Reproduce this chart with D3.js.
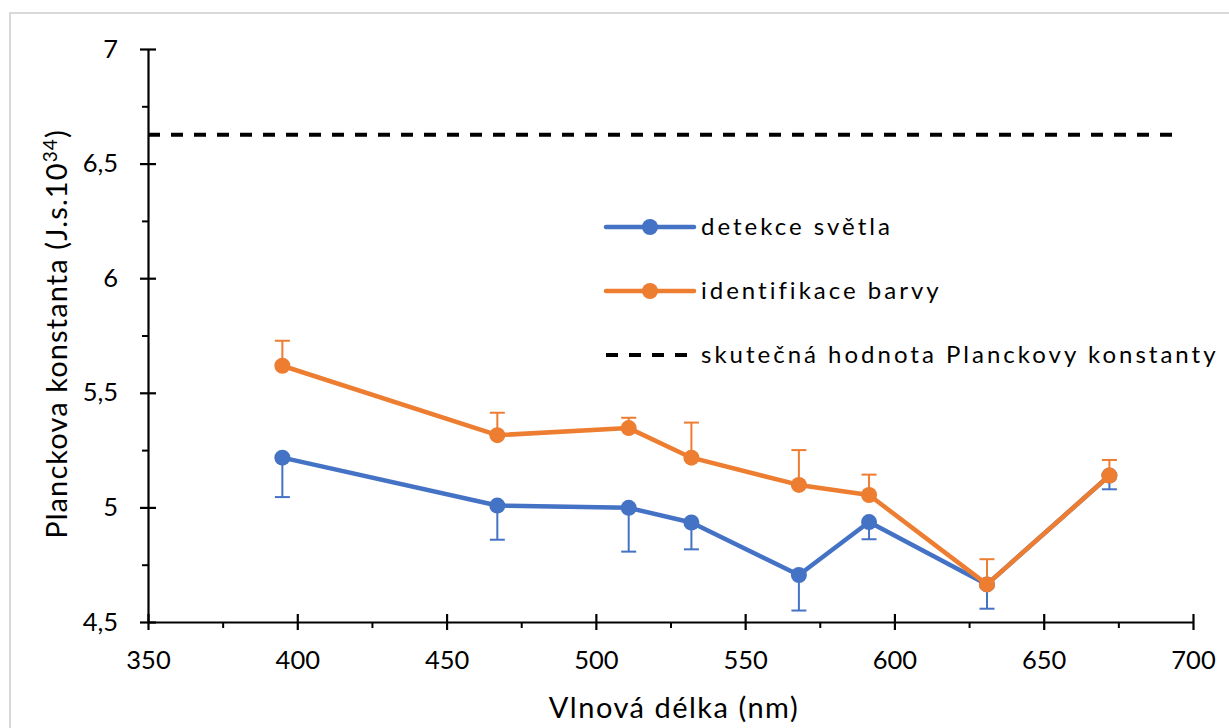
<!DOCTYPE html>
<html>
<head>
<meta charset="utf-8">
<script src="https://cdn.jsdelivr.net/npm/d3@7"></script>
<style>
  body { margin: 0; background: #fff; }
  text { font-family: Lato, "Open Sans", sans-serif; fill: #000; }
</style>
</head>
<body>
<script>
// wavelength (nm) of each LED
var wavelengths = [395, 467, 511, 532, 568, 591.5, 631, 672];
// detekce svetla: mean and (lower) error
var detekce = [5.217, 5.008, 4.998, 4.934, 4.705, 4.936, 4.664, 5.139];
var detekceErr = [0.172, 0.149, 0.191, 0.117, 0.155, 0.075, 0.106, 0.060];
// identifikace barvy: mean and (upper) error
var identifikace = [5.618, 5.315, 5.346, 5.217, 5.098, 5.054, 4.664, 5.139];
var identifikaceErr = [0.109, 0.098, 0.045, 0.153, 0.152, 0.089, 0.110, 0.068];
// real value of Planck constant
var planckReal = 6.626;
var planckRange = [350, 696];

var xTicks = [350, 400, 450, 500, 550, 600, 650, 700];
var xMinor = [375, 425, 475, 525, 575, 625, 675];
var yTicks = [4.5, 5, 5.5, 6, 6.5, 7];
var yMinor = [4.75, 5.25, 5.75, 6.25, 6.75];

var legendNames = ["detekce světla", "identifikace barvy", "skutečná hodnota Planckovy konstanty"];

var blue = "#4472C4", orange = "#ED7D31";

var W = 1229, H = 728;
var margin = {top: 49, right: 36, bottom: 106, left: 148};
var width = W - margin.left - margin.right,
    height = H - margin.top - margin.bottom;

var svg = d3.select("body").append("svg")
    .attr("width", W)
    .attr("height", H);

// chart area border
svg.append("rect")
    .attr("x", 10).attr("y", 13)
    .attr("width", W + 20).attr("height", H + 20)
    .attr("fill", "none")
    .attr("stroke", "#d9d9d9")
    .attr("stroke-width", 2);

var g = svg.append("g")
    .attr("transform", "translate(" + margin.left + "," + margin.top + ")");

var x = d3.scaleLinear().domain([350, 700]).range([0, width]);
var y = d3.scaleLinear().domain([4.5, 7]).range([height, 0]);

var fmt = function(d) { return String(d).replace(".", ","); };

// minor ticks
g.append("g")
    .attr("transform", "translate(0," + height + ")")
    .call(d3.axisBottom(x).tickValues(xMinor).tickSize(6).tickFormat(""))
    .call(function(a) { a.select(".domain").remove(); a.selectAll("line").attr("stroke-width", 2); });
g.append("g")
    .call(d3.axisLeft(y).tickValues(yMinor).tickSize(6).tickFormat(""))
    .call(function(a) { a.select(".domain").remove(); a.selectAll("line").attr("stroke-width", 2); });

// x axis
var xAxis = g.append("g")
    .attr("transform", "translate(0," + height + ")")
    .call(d3.axisBottom(x).tickValues(xTicks).tickSize(8).tickSizeOuter(0).tickPadding(21));
xAxis.select(".domain").attr("stroke-width", 2.2);
xAxis.selectAll(".tick line").attr("y1", -8).attr("stroke-width", 2.2);
xAxis.selectAll("text").attr("font-size", 25.5).style("font-family", "Lato");

// y axis
var yAxis = g.append("g")
    .call(d3.axisLeft(y).tickValues(yTicks).tickFormat(fmt).tickSize(8).tickSizeOuter(0).tickPadding(22));
yAxis.select(".domain").attr("stroke-width", 2.2);
yAxis.selectAll(".tick line").attr("x1", 8).attr("stroke-width", 2.2);
yAxis.selectAll("text").attr("font-size", 25.5).style("font-family", "Lato");

// axis titles
svg.append("text")
    .attr("x", 674).attr("y", 718)
    .attr("text-anchor", "middle")
    .attr("font-size", 29)
    .style("letter-spacing", "1.5px")
    .text("Vlnová délka (nm)");

var yl = svg.append("text")
    .attr("transform", "translate(67,334) rotate(-90)")
    .attr("text-anchor", "middle")
    .attr("font-size", 29)
    .style("letter-spacing", "1.1px");
yl.append("tspan").text("Planckova konstanta (J.s.10");
yl.append("tspan").attr("dy", -10).attr("font-size", 19).text("34");
yl.append("tspan").attr("dy", 10).text(")");

// dashed real value
g.append("line")
    .attr("x1", x(planckRange[0])).attr("x2", x(planckRange[1]))
    .attr("y1", y(planckReal)).attr("y2", y(planckReal))
    .attr("stroke", "#000")
    .attr("stroke-width", 4)
    .attr("stroke-dasharray", "12,11");

function series(vals, errs, dir, color) {
    var pts = wavelengths.map(function(w, i) { return {x: w, y: vals[i], e: errs[i]}; });
    var s = g.append("g");
    s.selectAll(".err").data(pts).enter().append("line")
        .attr("x1", function(d) { return x(d.x); })
        .attr("x2", function(d) { return x(d.x); })
        .attr("y1", function(d) { return y(d.y); })
        .attr("y2", function(d) { return y(d.y + dir * d.e); })
        .attr("stroke", color).attr("stroke-width", 2);
    s.selectAll(".cap").data(pts).enter().append("line")
        .attr("x1", function(d) { return x(d.x) - 7.5; })
        .attr("x2", function(d) { return x(d.x) + 7.5; })
        .attr("y1", function(d) { return y(d.y + dir * d.e); })
        .attr("y2", function(d) { return y(d.y + dir * d.e); })
        .attr("stroke", color).attr("stroke-width", 2);
    s.append("path")
        .datum(pts)
        .attr("fill", "none")
        .attr("stroke", color)
        .attr("stroke-width", 4.5)
        .attr("stroke-linejoin", "round")
        .attr("d", d3.line().x(function(d) { return x(d.x); }).y(function(d) { return y(d.y); }));
    s.selectAll("circle").data(pts).enter().append("circle")
        .attr("cx", function(d) { return x(d.x); })
        .attr("cy", function(d) { return y(d.y); })
        .attr("r", 8)
        .attr("fill", color);
}

series(detekce, detekceErr, -1, blue);
series(identifikace, identifikaceErr, 1, orange);

// legend
var lg = svg.append("g").attr("transform", "translate(606,227)");
var rowH = 64;
legendNames.forEach(function(name, i) {
    var r = lg.append("g").attr("transform", "translate(0," + (i * rowH) + ")");
    if (i < 2) {
        var c = i === 0 ? blue : orange;
        r.append("line").attr("x1", 0).attr("x2", 88).attr("stroke", c)
            .attr("stroke-width", 4.5).attr("stroke-linecap", "round");
        r.append("circle").attr("cx", 44).attr("r", 8).attr("fill", c);
    } else {
        r.append("line").attr("x1", 0).attr("x2", 84).attr("stroke", "#000")
            .attr("stroke-width", 4).attr("stroke-dasharray", "12,11");
    }
    r.append("text")
        .attr("x", 95).attr("dy", "0.35em")
        .attr("font-size", 24)
        .style("letter-spacing", "3px")
        .text(name);
});
</script>
</body>
</html>
